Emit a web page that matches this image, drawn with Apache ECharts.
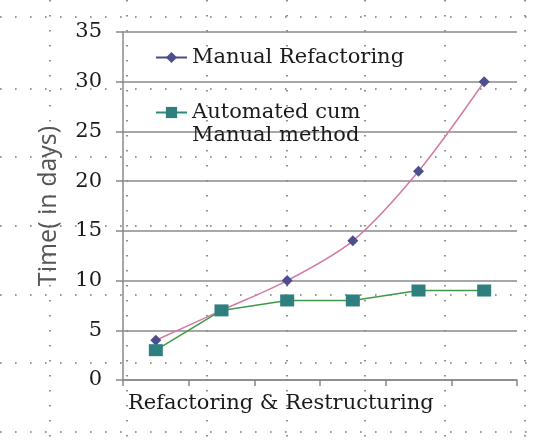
<!DOCTYPE html>
<html><head><meta charset="utf-8">
<script src="https://cdn.jsdelivr.net/npm/echarts@6/dist/echarts.min.js"></script>
<style>html,body{margin:0;padding:0;background:#fff}#c{width:539px;height:447px}</style>
</head><body><div id="c"></div>
<script>
var categories = ['S1','S2','S3','S4','S5','S6'];
var manualRefactoring = [4, 7, 10, 14, 21, 30];
var automatedManual = [3, 7, 8, 8, 9, 9];
var seriesNames = ['Manual Refactoring', 'Automated cum\nManual method'];
var yTicks = {min: 0, max: 35, interval: 5};

var chart = echarts.init(document.getElementById('c'));
var W = 539, H = 447;
var rows = [17, 89, 157, 226, 295, 363, 432];
var cols = [50, 127, 207, 287, 365, 445, 525];
var gfx = [];
rows.forEach(function(y){
  gfx.push({type:'line', z:-10, silent:true, shape:{x1:0,y1:y,x2:W,y2:y}, style:{stroke:'#777', lineWidth:1.6, lineDash:[1.6,13.4]}});
});
cols.forEach(function(x){
  gfx.push({type:'line', z:-10, silent:true, shape:{x1:x,y1:0,x2:x,y2:H}, style:{stroke:'#777', lineWidth:1.6, lineDash:[1.6,13.4]}});
});

var serif = '"DejaVu Serif", "Liberation Serif", serif';
chart.setOption({
  animation: false,
  backgroundColor: '#fff',
  graphic: gfx,
  grid: {left: 123, right: 22, top: 32, bottom: 67},
  title: {text: 'Refactoring & Restructuring', left: 128, top: 393, padding: 0,
    textStyle: {fontFamily: serif, fontSize: 21, fontWeight: 'normal', color: '#1a1a1a'}},
  legend: [{
    data: [{name: seriesNames[0], lineStyle: {color: '#4a4a85'}}],
    left: 155, top: 47, padding: 0, itemWidth: 31, itemHeight: 14,
    textStyle: {fontFamily: serif, fontSize: 21, color: '#1a1a1a'}
  }, {
    data: [{name: seriesNames[1], lineStyle: {color: '#2e8a78'}}],
    left: 155, top: 78, padding: 0, itemWidth: 31, itemHeight: 14,
    formatter: function(n){ return '\u00a0\n' + n; },
    textStyle: {fontFamily: serif, fontSize: 21, color: '#1a1a1a', lineHeight: 23}
  }],
  xAxis: {
    type: 'category', data: categories, boundaryGap: true,
    axisLine: {lineStyle: {color: '#888', width: 1.5}},
    axisTick: {show: true, length: 6, lineStyle: {color: '#888', width: 1.5}},
    axisLabel: {show: false},
    splitLine: {show: false}
  },
  yAxis: {
    type: 'value', min: yTicks.min, max: yTicks.max, interval: yTicks.interval,
    name: 'Time( in days)', nameLocation: 'middle', nameGap: 62, nameRotate: 90,
    nameTextStyle: {fontFamily: '"Open Sans", sans-serif', fontSize: 25, color: '#555'},
    axisLine: {show: true, lineStyle: {color: '#888', width: 1.5}},
    axisTick: {show: true, length: 7, lineStyle: {color: '#888', width: 1.5}},
    axisLabel: {fontFamily: serif, fontSize: 21, color: '#1a1a1a', margin: 21},
    splitLine: {lineStyle: {color: '#8a8a8a', width: 1.5}}
  },
  series: [{
    name: seriesNames[0], type: 'line', data: manualRefactoring, smooth: 0.3,
    symbol: 'diamond', symbolSize: 11,
    lineStyle: {color: '#d47aa6', width: 1.5},
    itemStyle: {color: '#4e4e8c'}
  }, {
    name: seriesNames[1], type: 'line', data: automatedManual,
    symbol: 'rect', symbolSize: [14, 12],
    lineStyle: {color: '#3e9a4a', width: 1.5},
    itemStyle: {color: '#2f7f80'}
  }]
});
</script></body></html>
